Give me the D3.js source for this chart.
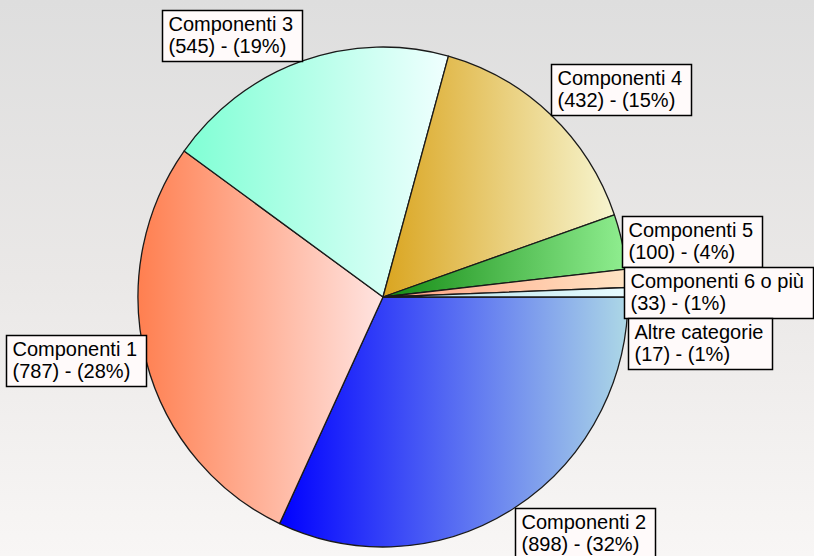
<!DOCTYPE html>
<html>
<head>
<meta charset="utf-8">
<script src="https://cdn.jsdelivr.net/npm/d3@7/dist/d3.min.js"></script>
<style>
  html, body { margin: 0; padding: 0; background: #fff; }
  svg { display: block; }
</style>
</head>
<body>
<svg id="chart" width="814" height="556"></svg>
<script>
// ---- data ----
const categories = ["Componenti 2", "Componenti 1", "Componenti 3", "Componenti 4", "Componenti 5", "Componenti 6 o più", "Altre categorie"];
const values = [898, 787, 545, 432, 100, 33, 17];
const percentLabels = ["32%", "28%", "19%", "15%", "4%", "1%", "1%"];
const gradientStart = ["#0000ff", "#ff7f50", "#7fffd4", "#daa520", "#138a13", "#ff9f80", "#b0e0e6"];
const gradientEnd = ["#add8e6", "#ffe4e1", "#f0ffff", "#f7f5d0", "#90ee90", "#ffe4c4", "#e8fbff"];

// ---- layout ----
const W = 814, H = 556;
const cx = 383, cy = 297, ry = 250, rx = 245;
const svg = d3.select("#chart");
const defs = svg.append("defs");

const bg = defs.append("linearGradient").attr("id", "bg").attr("x1", 0).attr("y1", 0).attr("x2", 0).attr("y2", 1);
bg.append("stop").attr("offset", "0%").attr("stop-color", "#dedede");
bg.append("stop").attr("offset", "50%").attr("stop-color", "#eae8e7");
bg.append("stop").attr("offset", "100%").attr("stop-color", "#f8f6f5");
svg.append("rect").attr("width", W).attr("height", H).attr("fill", "url(#bg)");

categories.forEach((c, i) => {
  const g = defs.append("linearGradient").attr("id", "g" + i)
    .attr("x1", 0).attr("y1", 0).attr("x2", 1).attr("y2", 0);
  g.append("stop").attr("offset", "0%").attr("stop-color", gradientStart[i]);
  g.append("stop").attr("offset", "100%").attr("stop-color", gradientEnd[i]);
});

const data = categories.map((c, i) => ({ name: c, value: values[i], pct: percentLabels[i], i }));
const pie = d3.pie().value(d => d.value).sort(null)
  .startAngle(Math.PI / 2).endAngle(Math.PI / 2 + 2 * Math.PI);
const arcs = pie(data);
const arc = d3.arc().innerRadius(0).outerRadius(ry);

const pieG = svg.append("g")
  .attr("transform", `translate(${cx},${cy}) scale(${rx / ry},1)`);
pieG.selectAll("path").data(arcs).enter().append("path")
  .attr("d", arc)
  .attr("fill", d => `url(#g${d.data.i})`)
  .attr("stroke", "#1a1a1a")
  .attr("stroke-width", 1.3)
  .attr("vector-effect", "non-scaling-stroke")
  .attr("stroke-linejoin", "round");

// ---- labels ----
const fontSize = 20, boxH = 51;
const labelG = svg.append("g");
const boxes = arcs.map(a => {
  const mid = (a.startAngle + a.endAngle) / 2;
  const ax = cx + rx * Math.sin(mid);
  const ay = cy - ry * Math.cos(mid);
  let deg = (mid * 180 / Math.PI) % 360;
  const g = labelG.append("g");
  const rect = g.append("rect");
  const t1 = g.append("text").attr("x", 6).attr("y", 20).text(a.data.name);
  const t2 = g.append("text").attr("x", 6).attr("y", 42).text(`(${a.data.value}) - (${a.data.pct})`);
  g.selectAll("text").attr("font-family", "'Liberation Sans', Arial, sans-serif")
    .attr("font-size", fontSize).attr("fill", "#000");
  const w = Math.ceil(Math.max(t1.node().getComputedTextLength(), t2.node().getComputedTextLength())) + 15;
  rect.attr("width", w).attr("height", boxH).attr("fill", "#fffafa")
    .attr("stroke", "#000").attr("stroke-width", 1.5);
  let x, y;
  if (deg > 10 && deg < 70) { x = ax; y = ay - boxH; }
  else if (deg >= 70 && deg <= 110) { x = ax; y = ay - boxH / 2; }
  else if (deg > 110 && deg < 180) { x = ax; y = ay; }
  else if (deg >= 180 && deg < 250) { x = ax - w; y = ay; }
  else if (deg >= 250 && deg <= 290) { x = ax - w; y = ay - boxH / 2; }
  else { x = ax - w; y = ay - boxH; }
  return { g, x, y, w, deg };
});
// resolve overlaps on the right side (push downward)
const right = boxes.filter(b => b.deg >= 10 && b.deg < 180).sort((a, b) => a.y - b.y);
for (let k = 1; k < right.length; k++) {
  const prev = right[k - 1], cur = right[k];
  const overlapX = cur.x < prev.x + prev.w && prev.x < cur.x + cur.w;
  if (overlapX && cur.y < prev.y + boxH) cur.y = prev.y + boxH;
}
boxes.forEach(b => {
  b.x = Math.min(b.x, W - b.w - 1);
  b.g.attr("transform", `translate(${Math.round(b.x) + 0.5},${Math.round(b.y) + 0.5})`);
});
</script>
</body>
</html>
